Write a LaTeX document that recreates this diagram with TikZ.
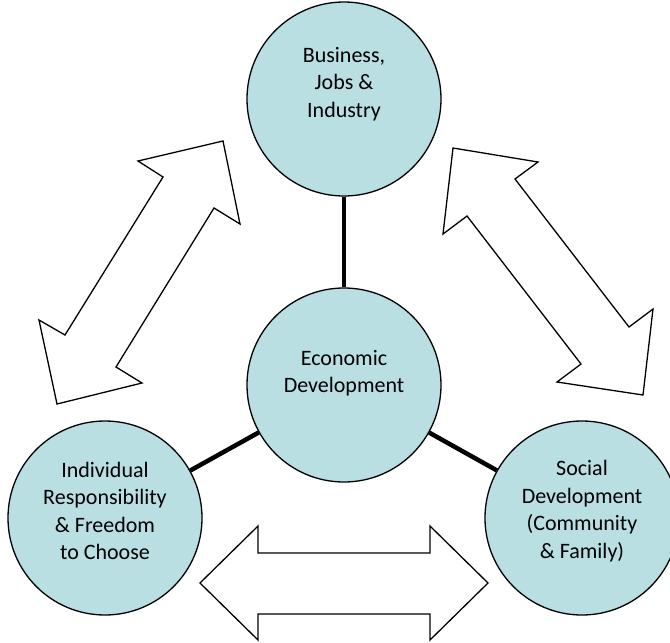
\documentclass[tikz,border=0pt]{standalone}
\usepackage{fontspec}
\setmainfont{Carlito}
\definecolor{bubblefill}{RGB}{185,223,227}
\begin{document}
\begin{tikzpicture}[x=1pt,y=-1pt,
  bubble/.style={circle,draw=black,line width=1.3pt,fill=bubblefill,minimum size=194pt,inner sep=0pt},
  txt/.style={align=center,font=\fontsize{22}{27.5}\selectfont,inner sep=0pt},
  link/.style={line width=4.5pt,black},
  blockarrow/.style={draw=black,fill=white,line width=1.3pt,line join=miter}]
\useasboundingbox (0,0) rectangle (670,643);
% circles
\node[bubble] (top) at (344,99) {};
\node[bubble] (mid) at (344,385) {};
\node[bubble] (left) at (105,518) {};
\node[bubble] (right) at (582,518) {};
% connectors
\draw[link] (top) -- (mid);
\draw[link] (mid) -- (left);
\draw[link] (mid) -- (right);
% texts
\node[txt] (toptxt) at (344,84) {Business,\\Jobs \&\\Industry};
\node[txt] (midtxt) at (344,373) {Economic\\Development};
\node[txt] (lefttxt) at (105,511) {Individual\\Responsibility\\\& Freedom\\to Choose};
\node[txt] (righttxt) at (582,511) {Social\\Development\\(Community\\\& Family)};
% block arrows
\draw[blockarrow] (223,141) -- (240,224) -- (214,208) -- (116,367) -- (142,383) -- (57,404) -- (39,320) -- (65,335) -- (163,177) -- (138,161) -- cycle;
\draw[blockarrow] (453,148) -- (538,162) -- (515,179) -- (629,327) -- (653,309) -- (643,395) -- (557,382) -- (581,364) -- (467,216) -- (443,234) -- cycle;
\draw[blockarrow] (200,583) -- (258,526) -- (258,553) -- (430,553) -- (430,526) -- (488,583) -- (430,640) -- (430,614) -- (258,614) -- (258,640) -- cycle;
\end{tikzpicture}
\end{document}
